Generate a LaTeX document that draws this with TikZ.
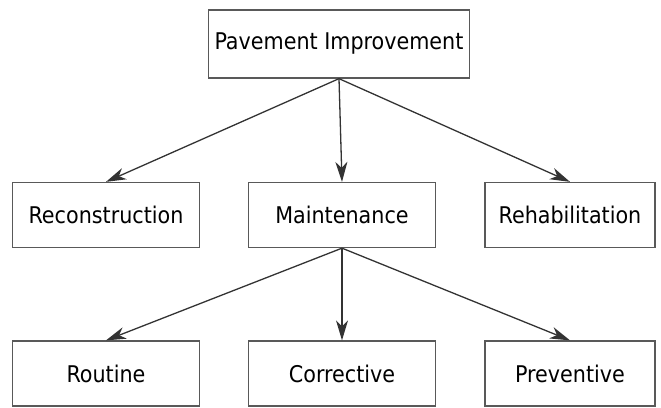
\documentclass[tikz,border=0pt]{standalone}
\usepackage{fontspec}
\setmainfont{DejaVu Sans Condensed}
\usetikzlibrary{arrows.meta}

\begin{document}
\begin{tikzpicture}
  [x=1pt,y=-1pt,
  box/.style={draw=black!65,line width=1.3pt,font=\fontsize{23}{26}\selectfont,inner sep=0pt},
  rootbox/.style={box,minimum width=261pt,minimum height=68pt},
  levelbox/.style={box,minimum width=187pt,minimum height=65pt},
  arr/.style={draw=black!80,line width=1.3pt,-{Stealth[length=20pt,width=12pt,inset=6pt]}}]

  \useasboundingbox (0,0) rectangle (661,407);

  \node[rootbox] (pav) at (339,44) {Pavement Improvement};

  \node[levelbox] (rec) at (106,215) {Reconstruction};
  \node[levelbox] (mnt) at (342,215) {Maintenance};
  \node[levelbox,minimum width=170pt] (reh) at (570,215) {Rehabilitation};

  \node[levelbox] (rou) at (106,373.5) {Routine};
  \node[levelbox] (cor) at (342,373.5) {Corrective};
  \node[levelbox,minimum width=170pt] (pre) at (570,373.5) {Preventive};

  \draw[arr] (pav.south) -- (rec.north);
  \draw[arr] (pav.south) -- (mnt.north);
  \draw[arr] (pav.south) -- (reh.north);

  \draw[arr] (mnt.south) -- (rou.north);
  \draw[arr] (mnt.south) -- (cor.north);
  \draw[arr] (mnt.south) -- (pre.north);

\end{tikzpicture}
\end{document}
